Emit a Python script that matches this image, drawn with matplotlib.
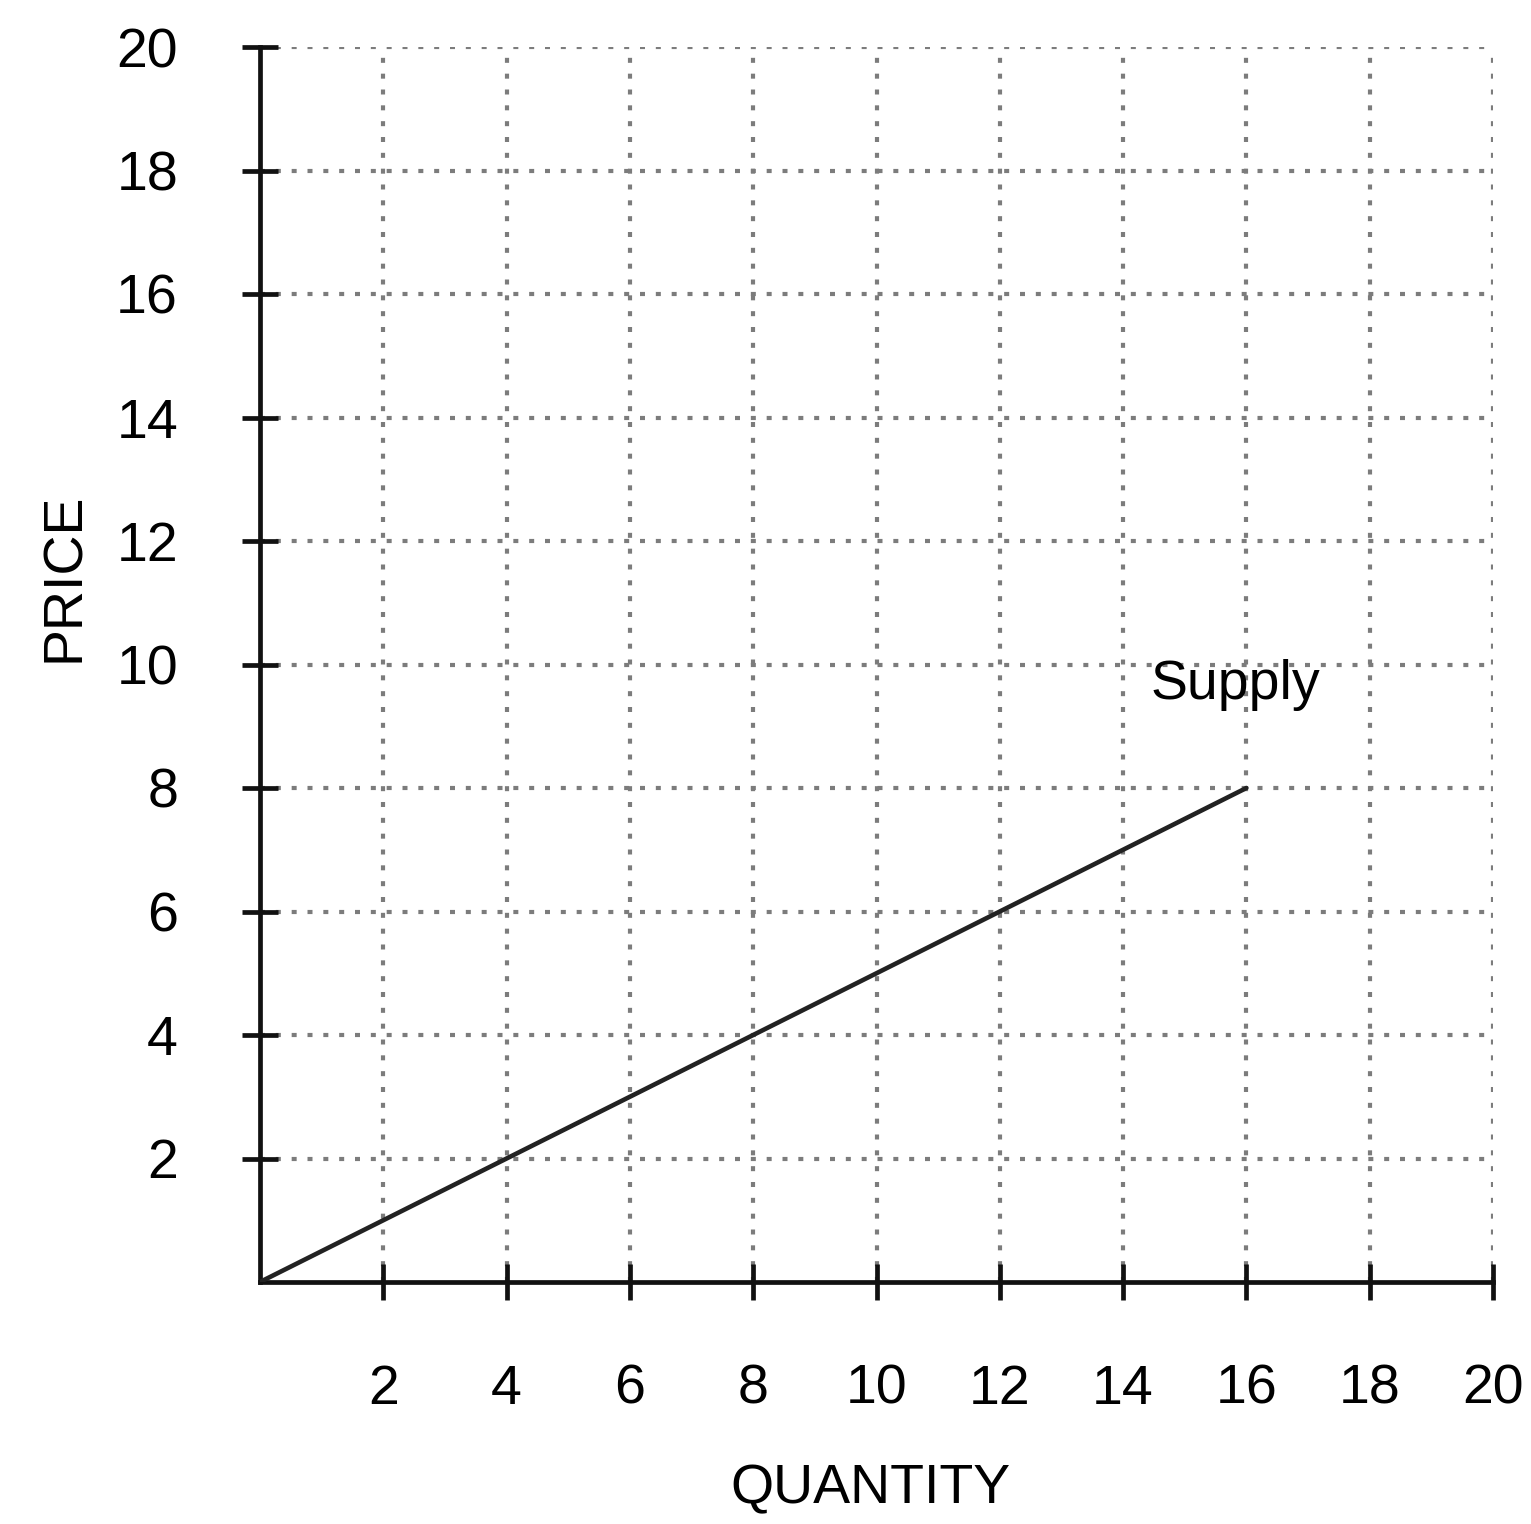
import matplotlib
matplotlib.use("Agg")
import matplotlib.pyplot as plt

# data
supply_q = [0, 16]
supply_p = [0, 8]
ticks = [2, 4, 6, 8, 10, 12, 14, 16, 18, 20]
tick_labels = [str(t) for t in ticks]

plt.rcParams['font.family'] = ['Liberation Sans', 'DejaVu Sans']

fig = plt.figure(figsize=(15.31, 15.24), dpi=100)
ax = fig.add_axes([260 / 1531, 1 - 1282 / 1524, (1493 - 260) / 1531, (1282 - 47) / 1524])

ax.set_xlim(0, 20)
ax.set_ylim(0, 20)

ax.plot(supply_q, supply_p, color='#222222', lw=3.3, solid_capstyle='round', zorder=3)
ax.text(14.45, 9.67, 'Supply', fontsize=40, va='center', ha='left', zorder=4)

ax.set_xticks(ticks)
ax.set_xticklabels(tick_labels)
ax.set_yticks(ticks)
ax.set_yticklabels(tick_labels)

ax.grid(True, color='#7c7c7c', lw=3, linestyle=(0, (1.2, 2.6)))
ax.set_axisbelow(True)

for s in ['top', 'right']:
    ax.spines[s].set_visible(False)
for s in ['left', 'bottom']:
    ax.spines[s].set_linewidth(3.4)
    ax.spines[s].set_color('#111111')

ax.tick_params(axis='both', direction='inout', length=26, width=3.4, color='#111111',
               labelsize=40, pad=46)
ax.tick_params(axis='y', pad=46)

ax.set_xlabel('QUANTITY', fontsize=40)
ax.set_ylabel('PRICE', fontsize=40)
ax.yaxis.set_label_coords(-0.137, 0.571)
ax.xaxis.set_label_coords(0.495, -0.147)

fig.savefig('out.png', dpi=100)
